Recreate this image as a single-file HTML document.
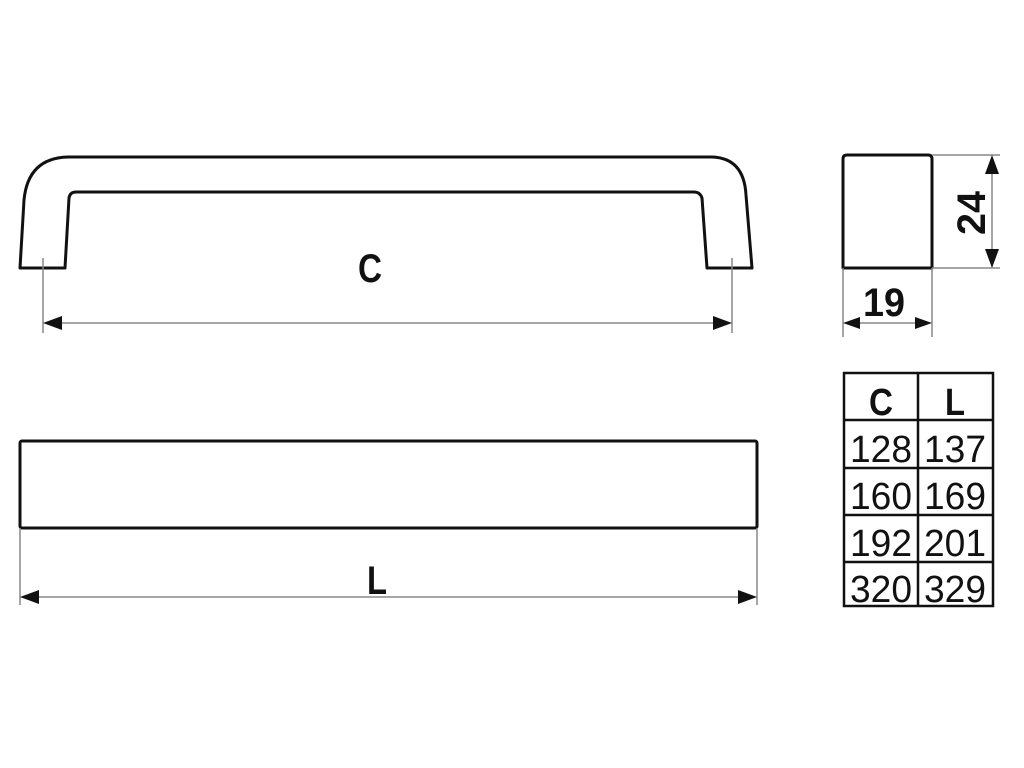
<!DOCTYPE html>
<html><head><style>
html,body{margin:0;padding:0;background:#fff;width:1024px;height:768px;overflow:hidden}
svg{display:block}
text{font-family:"Liberation Sans",sans-serif;fill:#111}
</style></head><body>
<svg width="1024" height="768" viewBox="0 0 1024 768" xmlns="http://www.w3.org/2000/svg">
<g fill="none" stroke="#111" stroke-width="3" stroke-linejoin="round">
<path d="M20,268 L24,200 Q28,158 68,157 L712,157 Q744,158 746,195 L752,268 L707,268 L702,198 Q700,192 694,192 L76,192 Q70,192 69,198 L65,268 Z"/>
<rect x="20" y="441" width="737" height="87" rx="2"/>
<path d="M843,268 L843,159 Q843,155 847,155 L928,155 Q932,155 932,159 L932,268 Z"/>
</g>
<g stroke="#888" stroke-width="1.5" fill="none">
<line x1="43" y1="258" x2="43" y2="333"/>
<line x1="732" y1="258" x2="732" y2="333"/>
<line x1="20" y1="528" x2="20" y2="605"/>
<line x1="757" y1="528" x2="757" y2="605"/>
<line x1="932" y1="155" x2="1000" y2="155"/>
<line x1="932" y1="268" x2="1000" y2="268"/>
<line x1="843" y1="268" x2="843" y2="337"/>
<line x1="932" y1="268" x2="932" y2="337"/>
<line x1="60" y1="323" x2="715" y2="323"/>
<line x1="37" y1="597" x2="740" y2="597"/>
<line x1="992" y1="172" x2="992" y2="251"/>
<line x1="858" y1="323" x2="917" y2="323"/>
</g>
<g fill="#111">
<path d="M43,323 L62,316 L62,330 Z"/>
<path d="M732,323 L713,316 L713,330 Z"/>
<path d="M20,597 L39,590 L39,604 Z"/>
<path d="M757,597 L738,590 L738,604 Z"/>
<path d="M992,155 L985,174 L999,174 Z"/>
<path d="M992,268 L985,249 L999,249 Z"/>
<path d="M843,323 L860,317 L860,329 Z"/>
<path d="M932,323 L915,317 L915,329 Z"/>
</g>
<text x="370" y="282" font-size="40" font-weight="bold" text-anchor="middle" textLength="24" lengthAdjust="spacingAndGlyphs">C</text>
<text x="377" y="594" font-size="40" font-weight="bold" text-anchor="middle" textLength="20" lengthAdjust="spacingAndGlyphs">L</text>
<text x="884" y="316" font-size="40" font-weight="bold" text-anchor="middle" textLength="42" lengthAdjust="spacingAndGlyphs">19</text>
<text transform="translate(985,213) rotate(-90)" font-size="40" font-weight="bold" text-anchor="middle" textLength="44" lengthAdjust="spacingAndGlyphs">24</text>
<g fill="none" stroke="#111" stroke-width="2.5">
<rect x="844" y="373" width="149" height="233"/>
<line x1="918" y1="373" x2="918" y2="606"/>
<line x1="844" y1="420" x2="993" y2="420"/>
<line x1="844" y1="468" x2="993" y2="468"/>
<line x1="844" y1="515" x2="993" y2="515"/>
<line x1="844" y1="562" x2="993" y2="562"/>
</g>
<g font-size="38" text-anchor="middle">
<text x="881" y="415" font-weight="bold" textLength="24" lengthAdjust="spacingAndGlyphs">C</text>
<text x="955" y="415" font-weight="bold" textLength="20" lengthAdjust="spacingAndGlyphs">L</text>
<text x="881" y="462" textLength="62" lengthAdjust="spacingAndGlyphs">128</text>
<text x="955" y="462" textLength="62" lengthAdjust="spacingAndGlyphs">137</text>
<text x="881" y="509" textLength="62" lengthAdjust="spacingAndGlyphs">160</text>
<text x="955" y="509" textLength="62" lengthAdjust="spacingAndGlyphs">169</text>
<text x="881" y="556" textLength="62" lengthAdjust="spacingAndGlyphs">192</text>
<text x="955" y="556" textLength="62" lengthAdjust="spacingAndGlyphs">201</text>
<text x="881" y="602" textLength="62" lengthAdjust="spacingAndGlyphs">320</text>
<text x="955" y="602" textLength="62" lengthAdjust="spacingAndGlyphs">329</text>
</g>
</svg>
</body></html>
